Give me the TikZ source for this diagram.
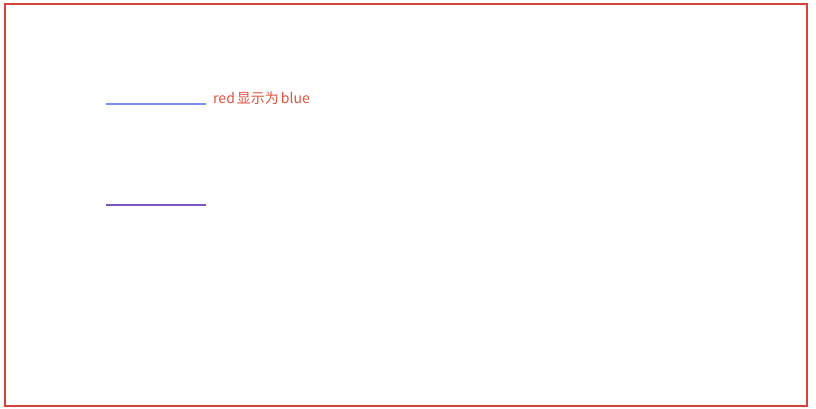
\documentclass[tikz,border=0pt]{standalone}
\usepackage{fontspec}
\newfontfamily\cjk{Noto Sans CJK SC}
\definecolor{frame}{HTML}{D2443A}
\definecolor{lblue}{HTML}{7B8DF0}
\definecolor{lpurple}{HTML}{7A55C4}
\definecolor{txtred}{HTML}{E0533D}
\tikzset{seg/.style={line width=2pt}}
\begin{document}
\begin{tikzpicture}[x=1pt,y=-1pt]
\useasboundingbox (0,0) rectangle (816,409);
\draw[frame,line width=2pt] (5,4) rectangle (806.5,406);
\coordinate (a1) at (106,104);
\coordinate (a2) at (206,104);
\coordinate (b1) at (106,205);
\coordinate (b2) at (206,205);
\draw[seg,lblue] (a1) -- (a2);
\draw[seg,lpurple] (b1) -- (b2);
\node[anchor=base west,inner sep=0pt,text=txtred,font=\cjk\fontsize{14}{16}\selectfont] (lbl) at (213,104) {red\hspace{2pt}显示为\hspace{2pt}blue};
\end{tikzpicture}
\end{document}
